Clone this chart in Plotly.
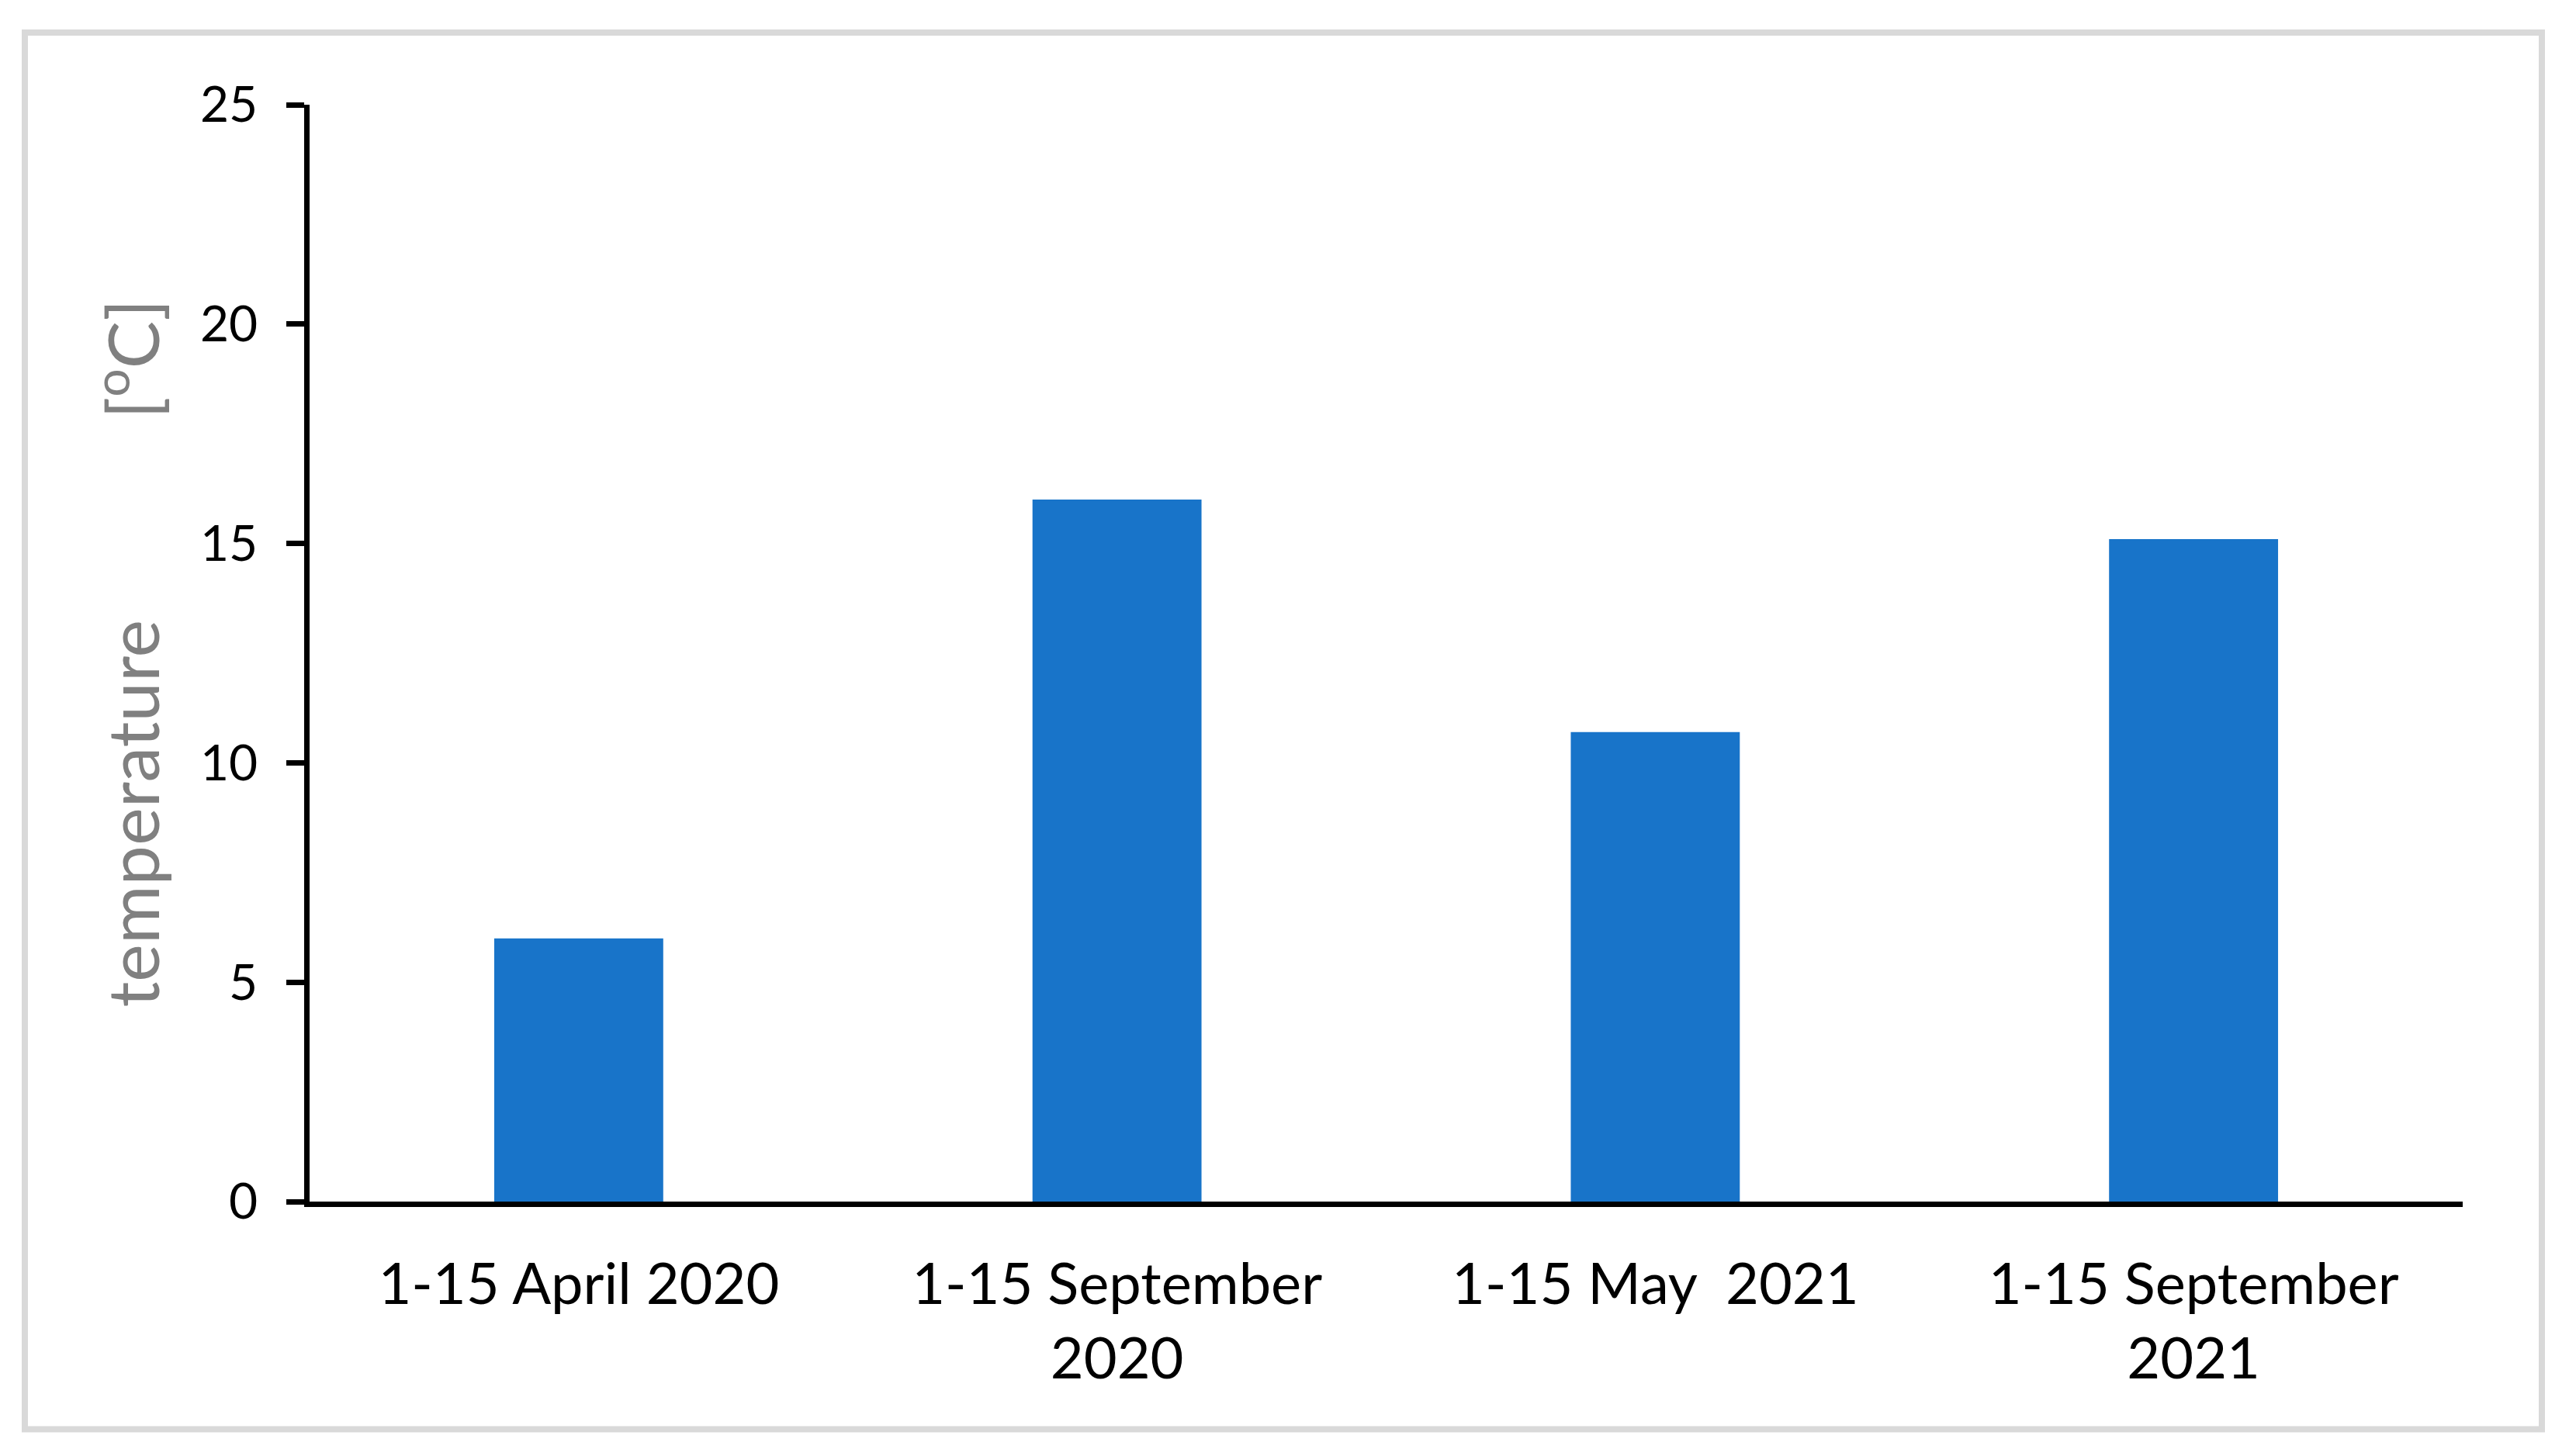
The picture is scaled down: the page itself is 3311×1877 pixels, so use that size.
import plotly.graph_objects as go

# data
periods = ["1-15 April 2020", "1-15 September<br>2020", "1-15 May\u00a0 2021", "1-15 September<br>2021"]
temperature = [6.0, 16.0, 10.7, 15.1]
y_ticks = [0, 5, 10, 15, 20, 25]

# the page body has an 8px margin, so the figure is 16px smaller than the window
OFF = 8
W, H = 3311 - 2 * OFF, 1877 - 2 * OFF
left, top = 399 - OFF, 135 - OFF
right = W - (3174 - OFF)
bottom = H - (1549.5 - OFF)
plot_w = W - left - right
plot_h = H - top - bottom


def px_x(p):
    return (p - OFF - left) / plot_w


def px_y(p):
    return (H - bottom - (p - OFF)) / plot_h


fig = go.Figure()
fig.add_trace(go.Bar(x=periods, y=temperature, marker=dict(color="#1874C9", line=dict(width=0)),
                     width=0.314))

fig.update_layout(
    width=W, height=H,
    margin=dict(l=left, r=right, t=top, b=bottom),
    paper_bgcolor="white", plot_bgcolor="white",
    font=dict(family="Lato", color="black"),
    showlegend=False,
    bargap=0.686,
)

fig.update_xaxes(
    showline=True, linecolor="black", linewidth=7,
    showgrid=False, ticks="", tickfont=dict(size=74, family="Lato"),
    ticklabelstandoff=36,
)
fig.update_yaxes(
    range=[0, 25], tickvals=y_ticks, showgrid=False, zeroline=False,
    showline=True, linecolor="black", linewidth=7,
    ticks="outside", ticklen=23, tickwidth=7, tickcolor="black",
    tickfont=dict(size=64, family="Lato"), ticklabelstandoff=24,
    title=dict(text="temperature" + "\u00a0" * 11 + "[<sup>o</sup>C]",
               font=dict(size=92, color="#808080", family="Lato"), standoff=24),
)

# light grey frame around the whole chart
fig.add_shape(type="rect", xref="paper", yref="paper",
              x0=px_x(32), x1=px_x(3276), y0=px_y(1843), y1=px_y(42),
              line=dict(color="#D9D9D9", width=8), fillcolor="rgba(0,0,0,0)", layer="below")

fig.write_html("out.html")
